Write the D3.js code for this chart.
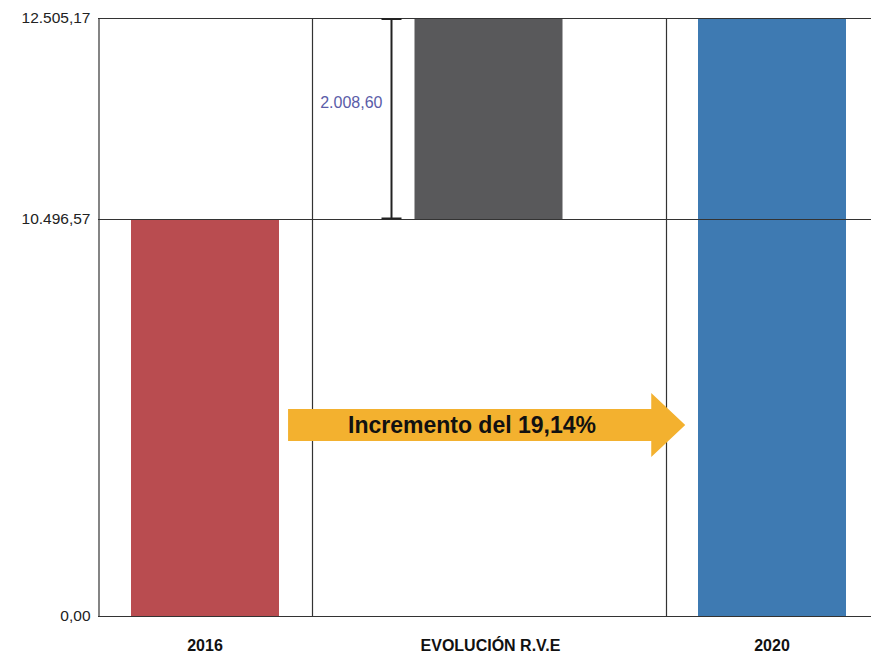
<!DOCTYPE html>
<html>
<head>
<meta charset="utf-8">
<script src="https://cdn.jsdelivr.net/npm/d3@7"></script>
<style>
  html, body { margin: 0; padding: 0; background: #fff; }
  svg { display: block; font-family: "Liberation Sans", Arial, Helvetica, sans-serif; }
</style>
</head>
<body>
<svg id="chart" width="871" height="654"></svg>
<script>
// Evolución R.V.E: waterfall 2016 -> 2020
const categories = ["2016", "EVOLUCIÓN R.V.E", "2020"];
const barStart = [0, 10496.57, 0];
const barEnd = [10496.57, 12505.17, 12505.17];
const barColors = ["#b94c50", "#59595b", "#3e7ab2"];
const tickValues = [0, 10496.57, 12505.17];
const tickLabels = ["0,00", "10.496,57", "12.505,17"];
const diffLabel = "2.008,60";
const arrowLabel = "Incremento del 19,14%";

const svg = d3.select("#chart");
const W = 871;
const plotLeft = 98, plotTop = 18, plotBottom = 616;

// piecewise value axis: each labelled level gets its own segment
const y = d3.scaleLinear().domain(tickValues).range([plotBottom, 219, plotTop]);
// category centres on a continuous index scale
const x = d3.scaleLinear().domain([0, 2]).range([205, 772]);
const barW = 148;

const fmt = v => tickLabels[tickValues.indexOf(v)];

// bars
svg.append("g").selectAll("rect").data(categories).join("rect")
  .attr("x", (d, i) => x(i) - barW / 2)
  .attr("y", (d, i) => y(barEnd[i]))
  .attr("width", barW)
  .attr("height", (d, i) => y(barStart[i]) - y(barEnd[i]))
  .attr("fill", (d, i) => barColors[i]);

// horizontal grid lines at every labelled level
svg.append("g").selectAll("line").data(tickValues).join("line")
  .attr("x1", plotLeft).attr("x2", W)
  .attr("y1", d => Math.round(y(d)) + 0.5).attr("y2", d => Math.round(y(d)) + 0.5)
  .attr("stroke", "#333").attr("stroke-width", 1.2);

// category separators
const separators = [0.378, 1.625];
svg.append("g").selectAll("line").data(separators).join("line")
  .attr("x1", d => Math.round(x(d)) + 0.5).attr("x2", d => Math.round(x(d)) + 0.5)
  .attr("y1", plotTop).attr("y2", plotBottom)
  .attr("stroke", "#333").attr("stroke-width", 1.2);

// value axis
const yAxis = d3.axisLeft(y).tickValues(tickValues).tickFormat(fmt).tickSize(0).tickPadding(8);
const ga = svg.append("g").attr("transform", `translate(${plotLeft + 0.5},0)`).call(yAxis);
ga.select(".domain").attr("stroke", "#333").attr("stroke-width", 1.2);
ga.selectAll("text").attr("font-size", 15.5).attr("fill", "#222")
  .attr("font-family", "'Liberation Sans', Arial, sans-serif");

// category labels
svg.append("g").selectAll("text").data(categories).join("text")
  .attr("x", (d, i) => x(i) + (i === 1 ? 2 : 0))
  .attr("y", 651)
  .attr("text-anchor", "middle")
  .attr("font-size", 16).attr("font-weight", "bold").attr("fill", "#111")
  .text(d => d);

// difference bracket
const ex = x(1) - 97;
const eb = svg.append("g").attr("stroke", "#222").attr("stroke-width", 2);
eb.append("line").attr("x1", ex).attr("x2", ex).attr("y1", y(barEnd[1])).attr("y2", y(barStart[1]));
eb.append("line").attr("x1", ex - 10).attr("x2", ex + 10).attr("y1", y(barEnd[1]) + 1).attr("y2", y(barEnd[1]) + 1);
eb.append("line").attr("x1", ex - 10).attr("x2", ex + 10).attr("y1", y(barStart[1]) - 0.5).attr("y2", y(barStart[1]) - 0.5);
svg.append("text")
  .attr("x", ex - 9).attr("y", y(barEnd[1]) + 90)
  .attr("text-anchor", "end").attr("font-size", 16).attr("fill", "#5a5ca8")
  .text(diffLabel);

// increase arrow
const ax0 = x(0.293), ax1 = x(1.694), headBase = ax1 - 34;
const amid = 425, bodyH = 16, headH = 32;
svg.append("path")
  .attr("d", `M${ax0},${amid - bodyH} L${headBase},${amid - bodyH} L${headBase},${amid - headH} L${ax1},${amid} L${headBase},${amid + headH} L${headBase},${amid + bodyH} L${ax0},${amid + bodyH} Z`)
  .attr("fill", "#f3b12f");
svg.append("text")
  .attr("x", 472).attr("y", amid + 8)
  .attr("text-anchor", "middle").attr("font-size", 23).attr("font-weight", "bold").attr("fill", "#111")
  .text(arrowLabel);
</script>
</body>
</html>
